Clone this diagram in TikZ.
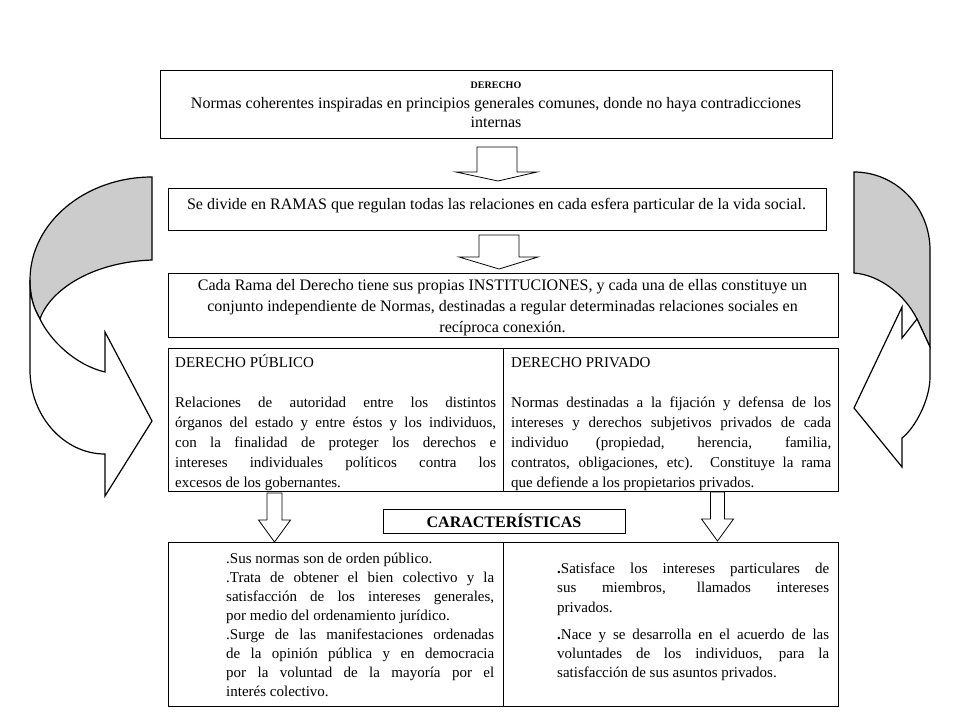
\documentclass[tikz,border=0pt]{standalone}
\usepackage{fontspec}
\setmainfont{Liberation Serif}
\newcommand\jl[2]{\hbox to #1{#2}}
\newcommand\tsp{\spaceskip=0.25em plus 0.6em minus 0.12em\relax}
\begin{document}
\begin{tikzpicture}[x=1pt,y=-1pt,
  boxs/.style={draw=black,line width=0.9pt,fill=white},
  txt/.style={inner sep=0pt,font=\fontsize{15}{20}\selectfont},
  bigtxt/.style={inner sep=0pt,font=\fontsize{16}{20}\selectfont},
  blockarrow/.style={draw=black,line width=0.8pt,fill=white,line join=miter},
  curvearrow/.style={draw=black,line width=1.2pt,line join=miter},
  backface/.style={curvearrow,fill=black!20},
  frontface/.style={curvearrow,fill=white}]
\useasboundingbox (0,0) rectangle (960,720);

% boxes
\draw[boxs] (160,70) rectangle (832,138);
\draw[boxs] (168,188) rectangle (826,230);
\draw[boxs] (168,273) rectangle (838,337);
\draw[boxs] (168,348) rectangle (838,491);
\draw[boxs] (503,348) -- (503,491);
\draw[boxs] (383,509) rectangle (625,533);
\draw[boxs] (168,542) rectangle (838,706);
\draw[boxs] (503,542) -- (503,706);

% straight block arrows
\draw[blockarrow] (477,147) -- (517,147) -- (517,172) -- (537,172) -- (498,181) -- (456,172) -- (477,172) -- cycle;
\draw[blockarrow] (479,235) -- (519,235) -- (519,257) -- (538,257) -- (499,269) -- (459,257) -- (479,257) -- cycle;
\draw[blockarrow] (267,493) -- (282,493) -- (282,520) -- (290.5,520) -- (274.5,542) -- (258.5,520) -- (267,520) -- cycle;
\draw[blockarrow] (710.5,492) -- (724.5,492) -- (724.5,519) -- (733.5,519) -- (717.5,541) -- (701.5,519) -- (710.5,519) -- cycle;

% left curved arrow
\draw[backface] (152,177) .. controls (85,177) and (30,223) .. (30,280)
  .. controls (30,300) and (35,310) .. (40,319)
  .. controls (50,290) and (92,262) .. (152,260) -- cycle;
\draw[frontface] (40,319) .. controls (50,340) and (75,365) .. (105,372)
  -- (105,332) -- (152,421) -- (105,496) -- (105,454)
  .. controls (64,454) and (30,416) .. (30,370) -- (30,280)
  .. controls (30,300) and (35,310) .. (40,319) -- cycle;

% right curved arrow
\draw[backface] (854,172) .. controls (896,172) and (930,207) .. (930,250)
  -- (930,347) -- (917,319)
  .. controls (905,295) and (880,275) .. (854,273) -- cycle;
\draw[frontface] (902,338) -- (917,319) -- (930,347) -- (930,377)
  .. controls (930,400) and (915,428) .. (902,438)
  -- (902,467) -- (854,408) -- (902,307) -- cycle;

% texts
\node[txt,font=\fontsize{10}{12}\selectfont\bfseries] (t1a) at (496,85) {DERECHO};
\node[bigtxt,align=center,font=\fontsize{16}{19}\selectfont] (t1b) at (496,113)
  {Normas coherentes inspiradas en principios  generales comunes, donde no haya contradicciones\\internas};
\node[bigtxt] (t2) at (496.5,206) {Se divide en RAMAS que regulan todas las relaciones  en cada esfera particular  de la vida social.};
\node[bigtxt,align=center,font=\fontsize{16}{21}\selectfont] (t3) at (502.5,308)
  {Cada Rama del Derecho tiene sus propias INSTITUCIONES, y cada una de ellas constituye un\\
   conjunto independiente de Normas, destinadas a regular  determinadas relaciones  sociales  en\\
   recíproca  conexión.};

\node[txt,anchor=north west] (t4l) at (175,353.3) {\vbox{\tsp
  \hbox{\strut DERECHO PÚBLICO}
  \hbox{\strut}
  \jl{321pt}{Relaciones de autoridad entre los distintos}
  \jl{321pt}{órganos del estado y entre éstos y los individuos,}
  \jl{321pt}{con la finalidad de proteger los derechos e}
  \jl{321pt}{intereses individuales políticos contra los}
  \hbox{excesos de los gobernantes.}}};
\node[txt,anchor=north west] (t4r) at (511,353.3) {\vbox{\tsp
  \hbox{\strut DERECHO PRIVADO}
  \hbox{\strut}
  \jl{320pt}{Normas destinadas a la fijación y defensa de los}
  \jl{320pt}{intereses y derechos subjetivos privados de cada}
  \jl{320pt}{individuo (propiedad, herencia, familia,}
  \jl{320pt}{contratos, obligaciones, etc).  Constituye la rama}
  \hbox{que defiende a los propietarios privados.}}};

\node[txt,font=\fontsize{16}{18}\selectfont\bfseries] (car) at (504,521) {CARACTERÍSTICAS};

\node[txt,anchor=north west,font=\fontsize{15}{19.1}\selectfont] (t5l) at (226,549.6) {\vbox{\tsp
  \hbox{\strut .Sus normas  son de orden público.}
  \jl{268pt}{.Trata de obtener el bien colectivo y la}
  \jl{268pt}{satisfacción de los intereses generales,}
  \hbox{por medio del ordenamiento jurídico.}
  \jl{268pt}{.Surge de las manifestaciones ordenadas}
  \jl{268pt}{de la opinión pública y en democracia}
  \jl{268pt}{por la voluntad de la mayoría por el}
  \hbox{interés colectivo.}}};
\node[txt,anchor=north west,font=\fontsize{15}{19.2}\selectfont] (t5r) at (557,560) {\vbox{\tsp
  \jl{272pt}{\strut\textbf{.}Satisface los intereses  particulares de}
  \jl{272pt}{sus miembros, llamados intereses}
  \hbox{privados.}
  \vskip 8pt
  \jl{272pt}{\textbf{.}Nace y se desarrolla en el acuerdo de las}
  \jl{272pt}{voluntades de los individuos, para la}
  \hbox{satisfacción de sus asuntos privados.}}};
\end{tikzpicture}
\end{document}
